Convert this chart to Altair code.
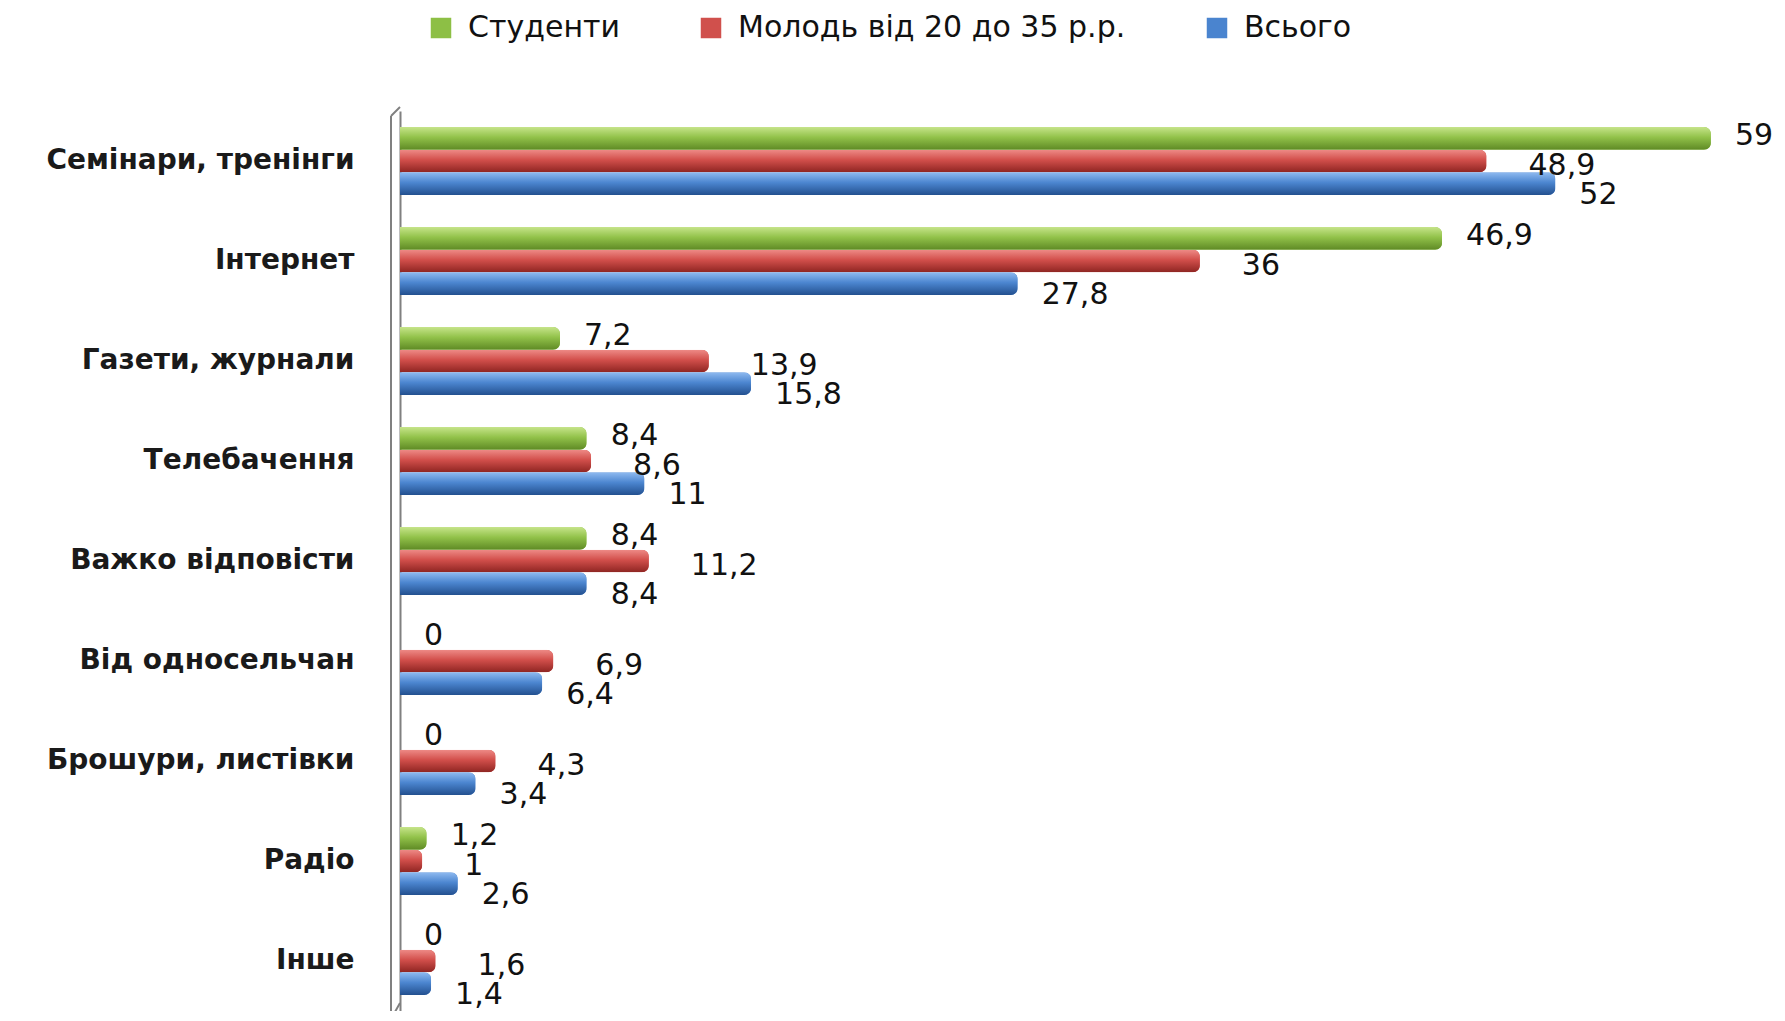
import altair as alt
import pandas as pd

categories = ["Семінари, тренінги", "Інтернет", "Газети, журнали", "Телебачення",
              "Важко відповісти", "Від односельчан", "Брошури, листівки", "Радіо", "Інше"]
series = ["Студенти", "Молодь від 20 до 35 р.р.", "Всього"]
students = [59, 46.9, 7.2, 8.4, 8.4, 0, 0, 1.2, 0]
youth = [48.9, 36, 13.9, 8.6, 11.2, 6.9, 4.3, 1, 1.6]
total = [52, 27.8, 15.8, 11, 8.4, 6.4, 3.4, 2.6, 1.4]

rows = []
for s, vals in zip(series, [students, youth, total]):
    for c, v in zip(categories, vals):
        rows.append({"cat": c, "series": s, "v": v})
df = pd.DataFrame(rows)

base_colors = ["#8DBF45", "#D0504C", "#4A84CF"]
grads = [
    ("#c6e48a", "#92c24a", "#5f8a25"),
    ("#ee8b87", "#d24f4b", "#8e2522"),
    ("#8fbaf0", "#4c86d0", "#23508f"),
]
label_dy = [-2, 5, 11]
label_dx = [24, 42, 24]

FONT = "DejaVu Sans"

y_enc = alt.Y("cat:N", sort=categories,
              scale=alt.Scale(paddingInner=0.32, paddingOuter=0.16),
              axis=alt.Axis(title=None, ticks=False, labelPadding=46,
                            labelFont=FONT, labelFontSize=28, labelFontWeight="bold",
                            labelColor="#1a1a1a", domainColor="#808080",
                            domainWidth=2, labelLimit=400))
x_enc = alt.X("v:Q", scale=alt.Scale(domain=[0, 59.5], nice=False), axis=None)
yoff = alt.YOffset("series:N", sort=series,
                   scale=alt.Scale(domain=series, paddingInner=0, paddingOuter=0))

base = alt.Chart(df)

legend_bars = base.mark_bar(cornerRadiusEnd=7).encode(
    y=y_enc, x=x_enc, yOffset=yoff,
    color=alt.Color("series:N", sort=series,
                    scale=alt.Scale(domain=series, range=base_colors),
                    legend=alt.Legend(title=None, orient="none", direction="horizontal",
                                      legendX=26, legendY=-98,
                                      symbolType="square", symbolSize=420,
                                      symbolStrokeWidth=0,
                                      labelFont=FONT, labelFontSize=30,
                                      labelColor="#111111", labelOffset=12,
                                      columnPadding=76, labelLimit=600)),
)

layers = [legend_bars]
for s, (top, mid, bot) in zip(series, grads):
    g = alt.Gradient(gradient="linear", x1=0, x2=0, y1=0, y2=1,
                     stops=[alt.GradientStop(color=top, offset=0),
                            alt.GradientStop(color=mid, offset=0.45),
                            alt.GradientStop(color=bot, offset=1)])
    layers.append(
        base.transform_filter(alt.datum.series == s)
        .mark_bar(cornerRadiusEnd=7, color=g)
        .encode(y=y_enc, x=x_enc, yOffset=yoff)
    )

for s, dy, dx in zip(series, label_dy, label_dx):
    layers.append(
        base.transform_filter(alt.datum.series == s)
        .transform_calculate(lab="replace(format(datum.v, '.1~f'), '.', ',')")
        .mark_text(align="left", baseline="middle", dx=dx, dy=dy,
                   font=FONT, fontSize=30, color="#111111")
        .encode(y=y_enc, x=x_enc, yOffset=yoff, text="lab:N")
    )

one = alt.Chart(pd.DataFrame({"a": [0]}))
frame = [
    one.mark_rule(color="#808080", strokeWidth=2).encode(
        x=alt.value(-9), y=alt.value(5), y2=alt.value(908)),
    one.mark_rule(color="#808080", strokeWidth=2).encode(
        x=alt.value(-9), x2=alt.value(0), y=alt.value(5), y2=alt.value(-4)),
    one.mark_rule(color="#808080", strokeWidth=2).encode(
        x=alt.value(-9), x2=alt.value(0), y=alt.value(908), y2=alt.value(892)),
]

chart = alt.layer(*frame, *layers).properties(
    width=1322, height=900,
    padding={"left": 392, "top": 103, "right": 54, "bottom": 0},
    autosize=alt.AutoSizeParams(type="none"),
    background="white",
).configure_view(stroke=None)

chart.save("out.html", embed_options={"renderer": "svg", "actions": False})
